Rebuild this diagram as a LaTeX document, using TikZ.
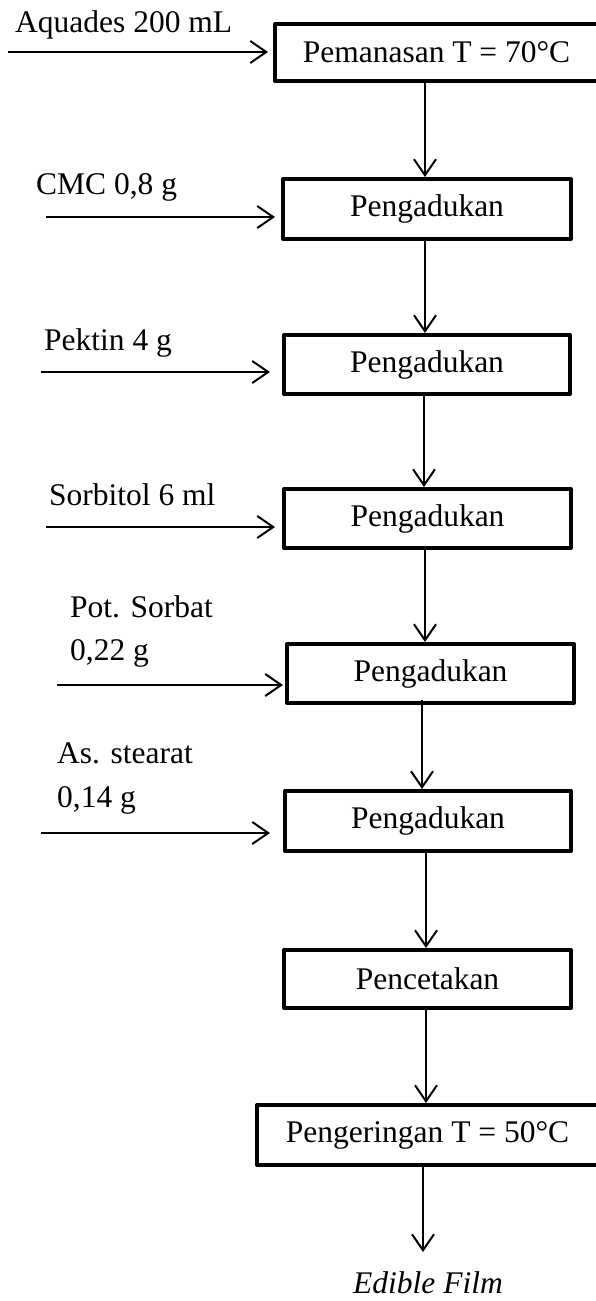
\documentclass[tikz,border=0pt]{standalone}
\usepackage{fontspec}
\setmainfont{Liberation Serif}
\usetikzlibrary{arrows.meta}
\tikzset{
  box/.style={draw, line width=4pt, inner sep=0pt, line join=round,
    font=\fontsize{31.5}{36}\selectfont},
  lbl/.style={inner sep=0pt, anchor=base west, font=\fontsize{31.5}{36}\selectfont},
  arr/.style={line width=2pt, -{Straight Barb[length=16pt,width=22pt,line width=2pt]}},
}
\begin{document}
\begin{tikzpicture}[x=1pt,y=-1pt]
\useasboundingbox (0,0) rectangle (595,1301);
% boxes
\node[box, minimum width=323pt, minimum height=57pt] (b1) at (436.5,52.5) {Pemanasan T = 70°C};
\node[box, minimum width=288pt, minimum height=60pt] (b2) at (427,209) {Pengadukan};
\node[box, minimum width=286pt, minimum height=59pt] (b3) at (427,364.5) {Pengadukan};
\node[box, minimum width=287pt, minimum height=59pt] (b4) at (427.5,518.5) {Pengadukan};
\node[box, minimum width=287pt, minimum height=59pt] (b5) at (430.5,673.5) {Pengadukan};
\node[box, minimum width=286pt, minimum height=60pt] (b6) at (428,821) {Pengadukan};
\node[box, minimum width=287pt, minimum height=58pt] (b7) at (427.5,979) {Pencetakan};
\node[box, minimum width=341pt, minimum height=60pt] (b8) at (427.5,1135) {Pengeringan T = 50°C};
% input labels
\node[lbl] (t1) at (15,32) {Aquades 200 mL};
\node[lbl] (t2) at (36,194) {CMC 0,8 g};
\node[lbl] (t3) at (44,350) {Pektin 4 g};
\node[lbl] (t4) at (49,505) {Sorbitol 6 ml};
\node[lbl] (t5a) at (70,617) {Pot. Sorbat};
\node[lbl] (t5b) at (70,660) {0,22 g};
\node[lbl] (t6a) at (57,763) {As. stearat};
\node[lbl] (t6b) at (57,807) {0,14 g};
\node[lbl, font=\fontsize{31.5}{36}\selectfont\itshape] (ef) at (353,1293) {Edible Film};
% input arrow starts
\coordinate (a1) at (8,52);
\coordinate (a2) at (46,217);
\coordinate (a3) at (41,372);
\coordinate (a4) at (46,527);
\coordinate (a5) at (57,685);
\coordinate (a6) at (41,833);
\coordinate (efin) at (423,1252);
% horizontal arrows
\draw[arr, shorten >=5pt] (a1) -- (a1 -| b1.west);
\draw[arr, shorten >=6pt] (a2) -- (a2 -| b2.west);
\draw[arr, shorten >=12pt] (a3) -- (a3 -| b3.west);
\draw[arr, shorten >=7pt] (a4) -- (a4 -| b4.west);
\draw[arr, shorten >=2pt] (a5) -- (a5 -| b5.west);
\draw[arr, shorten >=13pt] (a6) -- (a6 -| b6.west);
% vertical arrows
\draw[arr] (b1.south -| 425,0) -- (b2.north -| 425,0);
\draw[arr] (b2.south -| 425,0) -- (b3.north -| 425,0);
\draw[arr] (b3.south -| 424,0) -- (b4.north -| 424,0);
\draw[arr] (b4.south -| 425,0) -- (b5.north -| 425,0);
\draw[arr] ([yshift=5pt]b5.south -| 422,0) -- (b6.north -| 422,0);
\draw[arr] (b6.south -| 426,0) -- (b7.north -| 426,0);
\draw[arr] (b7.south -| 426,0) -- (b8.north -| 426,0);
\draw[arr] ([yshift=3pt]b8.south -| 423,0) -- (efin);
\end{tikzpicture}
\end{document}
